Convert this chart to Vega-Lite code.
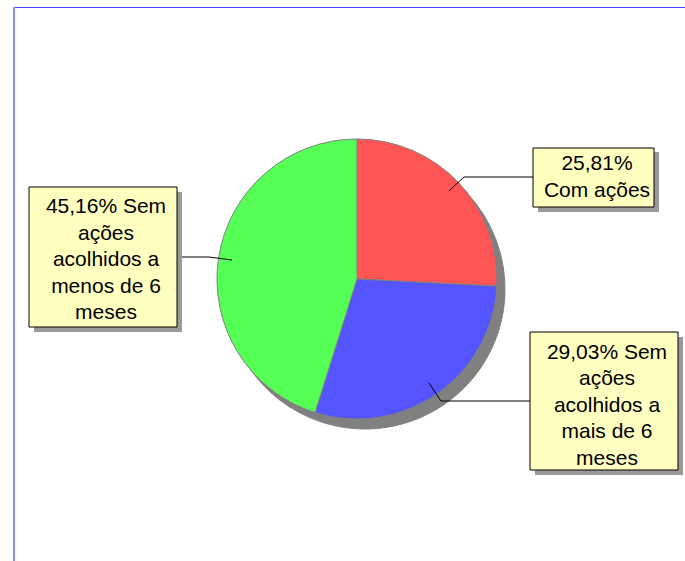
{
  "$schema": "https://vega.github.io/schema/vega-lite/v6.json",
  "width": 685,
  "height": 561,
  "autosize": "none",
  "padding": 0,
  "background": "white",
  "config": {"view": {"stroke": null}},
  "datasets": {
    "pie": [
      {"category": "Com ações", "value": 25.81, "ord": 1},
      {"category": "Sem ações acolhidos a mais de 6 meses", "value": 29.03, "ord": 2},
      {"category": "Sem ações acolhidos a menos de 6 meses", "value": 45.16, "ord": 3}
    ]
  },
  "layer": [
    {
      "data": {"values": [{}]},
      "mark": {"type": "rule", "color": "#4848FF", "strokeWidth": 1},
      "encoding": {
        "x": {"datum": 14, "type": "quantitative", "scale": {"domain": [0, 685], "nice": false, "zero": false}, "axis": null},
        "x2": {"datum": 685},
        "y": {"datum": 7.5, "type": "quantitative", "scale": {"domain": [0, 561], "nice": false, "zero": false, "reverse": true}, "axis": null}
      }
    },
    {
      "data": {"values": [{}]},
      "mark": {"type": "rule", "color": "#8C8CFF", "strokeWidth": 2},
      "encoding": {
        "x": {"datum": 14, "type": "quantitative", "scale": {"domain": [0, 685], "nice": false, "zero": false}, "axis": null},
        "y": {"datum": 7, "type": "quantitative", "scale": {"domain": [0, 561], "nice": false, "zero": false, "reverse": true}, "axis": null},
        "y2": {"datum": 561}
      }
    },
    {
      "data": {"name": "pie"},
      "mark": {"type": "arc", "radius": 140, "color": "#808080", "stroke": "#808080", "strokeWidth": 1},
      "encoding": {
        "theta": {"field": "value", "type": "quantitative", "stack": true},
        "order": {"field": "ord", "type": "quantitative"},
        "x": {"datum": 365, "type": "quantitative", "scale": {"domain": [0, 685], "nice": false, "zero": false}, "axis": null},
        "y": {"datum": 289, "type": "quantitative", "scale": {"domain": [0, 561], "nice": false, "zero": false, "reverse": true}, "axis": null}
      }
    },
    {
      "data": {"name": "pie"},
      "mark": {"type": "arc", "radius": 140, "stroke": "#808080", "strokeWidth": 1},
      "encoding": {
        "theta": {"field": "value", "type": "quantitative", "stack": true},
        "order": {"field": "ord", "type": "quantitative"},
        "color": {
          "field": "category",
          "type": "nominal",
          "scale": {
            "domain": ["Com ações", "Sem ações acolhidos a mais de 6 meses", "Sem ações acolhidos a menos de 6 meses"],
            "range": ["#FF5555", "#5555FF", "#55FF55"]
          },
          "legend": null
        },
        "x": {"datum": 357, "type": "quantitative", "scale": {"domain": [0, 685], "nice": false, "zero": false}, "axis": null},
        "y": {"datum": 279, "type": "quantitative", "scale": {"domain": [0, 561], "nice": false, "zero": false, "reverse": true}, "axis": null}
      }
    },
    {
      "data": {"values": [{}]},
      "mark": {"type": "rule", "color": "black", "strokeWidth": 1},
      "encoding": {
        "x": {"datum": 449, "type": "quantitative"}, "y": {"datum": 191, "type": "quantitative"},
        "x2": {"datum": 464}, "y2": {"datum": 177}
      }
    },
    {
      "data": {"values": [{}]},
      "mark": {"type": "rule", "color": "black", "strokeWidth": 1},
      "encoding": {
        "x": {"datum": 464, "type": "quantitative"}, "y": {"datum": 177, "type": "quantitative"},
        "x2": {"datum": 535}, "y2": {"datum": 177}
      }
    },
    {
      "data": {"values": [{}]},
      "mark": {"type": "rule", "color": "black", "strokeWidth": 1},
      "encoding": {
        "x": {"datum": 177, "type": "quantitative"}, "y": {"datum": 257, "type": "quantitative"},
        "x2": {"datum": 209}, "y2": {"datum": 257}
      }
    },
    {
      "data": {"values": [{}]},
      "mark": {"type": "rule", "color": "black", "strokeWidth": 1},
      "encoding": {
        "x": {"datum": 209, "type": "quantitative"}, "y": {"datum": 257, "type": "quantitative"},
        "x2": {"datum": 232}, "y2": {"datum": 260}
      }
    },
    {
      "data": {"values": [{}]},
      "mark": {"type": "rule", "color": "black", "strokeWidth": 1},
      "encoding": {
        "x": {"datum": 429, "type": "quantitative"}, "y": {"datum": 383, "type": "quantitative"},
        "x2": {"datum": 441}, "y2": {"datum": 401}
      }
    },
    {
      "data": {"values": [{}]},
      "mark": {"type": "rule", "color": "black", "strokeWidth": 1},
      "encoding": {
        "x": {"datum": 441, "type": "quantitative"}, "y": {"datum": 401, "type": "quantitative"},
        "x2": {"datum": 530}, "y2": {"datum": 401}
      }
    },
    {
      "data": {"values": [{"label": "25,81%\nCom ações"}]},
      "layer": [
        {
          "mark": {"type": "rect", "color": "#9A9A9A"},
          "encoding": {
            "x": {"datum": 538, "type": "quantitative"}, "x2": {"datum": 659},
            "y": {"datum": 152, "type": "quantitative"}, "y2": {"datum": 212}
          }
        },
        {
          "mark": {"type": "rect", "fill": "#FFFFC0", "stroke": "black", "strokeWidth": 1},
          "encoding": {
            "x": {"datum": 533, "type": "quantitative"}, "x2": {"datum": 654},
            "y": {"datum": 148, "type": "quantitative"}, "y2": {"datum": 207}
          }
        },
        {
          "mark": {"type": "text", "font": "Liberation Sans", "fontSize": 21, "lineHeight": 26.5, "lineBreak": "\n", "align": "center", "baseline": "middle", "color": "black"},
          "encoding": {
            "x": {"datum": 597, "type": "quantitative"},
            "y": {"datum": 164, "type": "quantitative"},
            "text": {"field": "label", "type": "nominal"}
          }
        }
      ]
    },
    {
      "data": {"values": [{"label": "45,16% Sem\nações\nacolhidos a\nmenos de 6\nmeses"}]},
      "layer": [
        {
          "mark": {"type": "rect", "color": "#9A9A9A"},
          "encoding": {
            "x": {"datum": 34, "type": "quantitative"}, "x2": {"datum": 182},
            "y": {"datum": 192, "type": "quantitative"}, "y2": {"datum": 332}
          }
        },
        {
          "mark": {"type": "rect", "fill": "#FFFFC0", "stroke": "black", "strokeWidth": 1},
          "encoding": {
            "x": {"datum": 29, "type": "quantitative"}, "x2": {"datum": 177},
            "y": {"datum": 187, "type": "quantitative"}, "y2": {"datum": 327}
          }
        },
        {
          "mark": {"type": "text", "font": "Liberation Sans", "fontSize": 21, "lineHeight": 26.5, "lineBreak": "\n", "align": "center", "baseline": "middle", "color": "black"},
          "encoding": {
            "x": {"datum": 106, "type": "quantitative"},
            "y": {"datum": 207, "type": "quantitative"},
            "text": {"field": "label", "type": "nominal"}
          }
        }
      ]
    },
    {
      "data": {"values": [{"label": "29,03% Sem\nações\nacolhidos a\nmais de 6\nmeses"}]},
      "layer": [
        {
          "mark": {"type": "rect", "color": "#9A9A9A"},
          "encoding": {
            "x": {"datum": 535, "type": "quantitative"}, "x2": {"datum": 683},
            "y": {"datum": 337, "type": "quantitative"}, "y2": {"datum": 475}
          }
        },
        {
          "mark": {"type": "rect", "fill": "#FFFFC0", "stroke": "black", "strokeWidth": 1},
          "encoding": {
            "x": {"datum": 530, "type": "quantitative"}, "x2": {"datum": 678},
            "y": {"datum": 332, "type": "quantitative"}, "y2": {"datum": 470}
          }
        },
        {
          "mark": {"type": "text", "font": "Liberation Sans", "fontSize": 21, "lineHeight": 26.5, "lineBreak": "\n", "align": "center", "baseline": "middle", "color": "black"},
          "encoding": {
            "x": {"datum": 607, "type": "quantitative"},
            "y": {"datum": 352.5, "type": "quantitative"},
            "text": {"field": "label", "type": "nominal"}
          }
        }
      ]
    }
  ]
}
